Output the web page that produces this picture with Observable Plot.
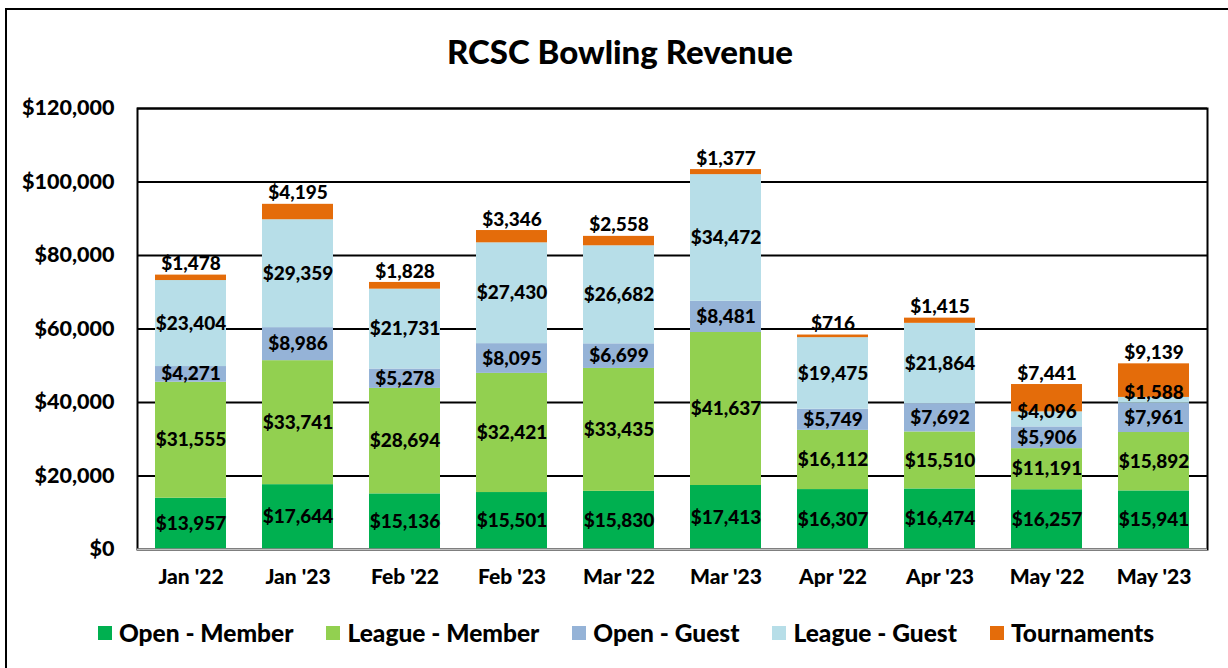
<!DOCTYPE html>
<html>
<head>
<meta charset="utf-8">
<script src="https://cdn.jsdelivr.net/npm/d3@7"></script>
<script src="https://cdn.jsdelivr.net/npm/@observablehq/plot@0.6"></script>
<style>
  html, body { margin: 0; padding: 0; background: #fff; overflow: hidden; }
  body { width: 1228px; height: 668px; position: relative; font-family: Lato, "Open Sans", sans-serif; }
  #frame { position: absolute; left: 5px; top: 8px; width: 1240px; height: 700px; border: 2px solid #000; box-sizing: border-box; }
  #title { position: absolute; left: 0; top: 31px; width: 1240px; text-align: center; font-weight: 900; font-size: 33px; line-height: 40px; color: #000; }
  #chart { position: absolute; left: 0; top: 88px; }
  #legend { position: absolute; left: 0; top: 617px; width: 1252px; display: flex; justify-content: center; gap: 33px; font-weight: 900; font-size: 24.5px; line-height: 32px; color: #000; }
  #legend .item { display: flex; align-items: center; gap: 7px; }
  #legend .sw { width: 14px; height: 14px; display: inline-block; }
</style>
</head>
<body>
<div id="frame"></div>
<div id="title">RCSC Bowling Revenue</div>
<div id="chart"></div>
<div id="legend"></div>
<script>
const months = ["Jan '22","Jan '23","Feb '22","Feb '23","Mar '22","Mar '23","Apr '22","Apr '23","May '22","May '23"];
const seriesNames = ["Open - Member","League - Member","Open - Guest","League - Guest","Tournaments"];
const seriesColors = ["#00B050","#92D050","#95B3D7","#B7DEE8","#E46C0A"];
const openMember   = [13957,17644,15136,15501,15830,17413,16307,16474,16257,15941];
const leagueMember = [31555,33741,28694,32421,33435,41637,16112,15510,11191,15892];
const openGuest    = [4271,8986,5278,8095,6699,8481,5749,7692,5906,7961];
const leagueGuest  = [23404,29359,21731,27430,26682,34472,19475,21864,4096,1588];
const tournaments  = [1478,4195,1828,3346,2558,1377,716,1415,7441,9139];
const yTicks = [0,20000,40000,60000,80000,100000,120000];

const seriesValues = [openMember, leagueMember, openGuest, leagueGuest, tournaments];
const data = [];
seriesNames.forEach((s, si) => {
  months.forEach((m, mi) => data.push({month: m, series: s, value: seriesValues[si][mi]}));
});
const fmt = v => "$" + d3.format(",")(v);
const isTop = d => d.series === "Tournaments";
const isSmallGuest = d => d.series === "League - Guest" && d.value < 5000;

const font = "Lato, 'Open Sans', sans-serif";
const labelSize = 19;
const chart = Plot.plot({
  width: 1228,
  height: 504,
  marginLeft: 137,
  marginRight: 21,
  marginTop: 20,
  marginBottom: 43,
  style: {fontFamily: font, fontWeight: 900, color: "#000", background: "transparent"},
  x: {domain: months, paddingInner: 0.336, paddingOuter: 0.168, label: null, tickSize: 0, tickPadding: 20},
  y: {domain: [0, 120000], ticks: yTicks, tickFormat: fmt, label: null, tickSize: 0, tickPadding: 23},
  color: {domain: seriesNames, range: seriesColors},
  marks: [
    Plot.ruleY(yTicks, {stroke: "#000", strokeWidth: 2}),
    Plot.barY(data, Plot.stackY({x: "month", y: "value", fill: "series", order: seriesNames})),
    Plot.frame({stroke: "#000", strokeWidth: 2}),
    Plot.ruleY([0], {stroke: "#bfbfbf", strokeWidth: 2}),
    Plot.text(data, Plot.stackY({x: "month", y: "value", z: "series", order: seriesNames,
      text: d => (isTop(d) || isSmallGuest(d)) ? null : fmt(d.value),
      fontSize: labelSize, fontWeight: 900, fill: "#000"})),
    Plot.text(data, Plot.stackY({x: "month", y: "value", z: "series", order: seriesNames,
      text: d => isSmallGuest(d) ? fmt(d.value) : null,
      dy: -7, fontSize: labelSize, fontWeight: 900, fill: "#000"})),
    Plot.text(data, Plot.stackY2({x: "month", y: "value", z: "series", order: seriesNames,
      text: d => isTop(d) ? fmt(d.value) : null,
      dy: -11, fontSize: labelSize, fontWeight: 900, fill: "#000"}))
  ]
});
chart.querySelectorAll("g[aria-label='x-axis tick label'], g[aria-label='y-axis tick label']").forEach(g => {
  g.setAttribute("font-size", g.getAttribute("aria-label").startsWith("x") ? 21 : 21.5);
  g.setAttribute("font-weight", 900);
});
document.getElementById("chart").appendChild(chart);

const legend = document.getElementById("legend");
seriesNames.forEach((s, i) => {
  const it = document.createElement("div");
  it.className = "item";
  it.innerHTML = `<span class="sw" style="background:${seriesColors[i]}"></span><span>${s}</span>`;
  legend.appendChild(it);
});
</script>
</body>
</html>
